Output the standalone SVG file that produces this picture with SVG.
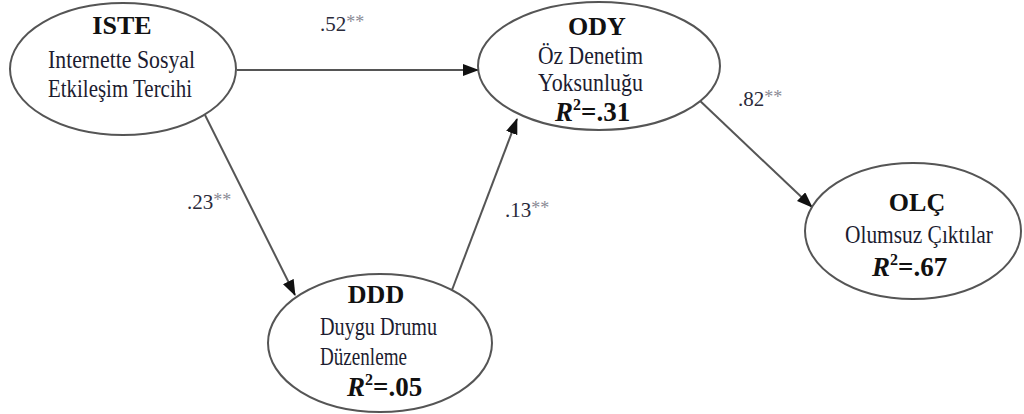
<svg xmlns="http://www.w3.org/2000/svg" width="1024" height="414" viewBox="0 0 1024 414">
<style>
.node{fill:#fff;stroke:#555;stroke-width:2}
.edge{fill:none;stroke:#555;stroke-width:2}
text{font-family:"Liberation Serif","Times New Roman",Tinos,"DejaVu Serif",serif}
.title{font-weight:bold;font-size:26px;fill:#111;text-anchor:middle}
.desc{font-size:26px;fill:#1c1c30}
.r2{font-weight:bold;font-size:27px;fill:#111}
.lbl{font-size:21px;fill:#2a2a3a}
.ast{fill:#8a8a95;font-size:18px}
</style>
<defs>
<marker id="arr" markerUnits="userSpaceOnUse" markerWidth="16" markerHeight="12" refX="15" refY="6" orient="auto">
<path d="M0,0 L16,6 L0,12 Z" fill="#111"/>
</marker>
</defs>
<rect width="1024" height="414" fill="#fff"/>
<g id="connectors">
<path class="edge" d="M237,70 L478,70" marker-end="url(#arr)"/>
<path class="edge" d="M205,115 L295,295" marker-end="url(#arr)"/>
<path class="edge" d="M452,290 L517,119" marker-end="url(#arr)"/>
<path class="edge" d="M697,98 L812,207" marker-end="url(#arr)"/>
<text class="lbl" x="320" y="31">.52<tspan class="ast" dy="-3">**</tspan></text>
<text class="lbl" x="187" y="209">.23<tspan class="ast" dy="-3">**</tspan></text>
<text class="lbl" x="505" y="217">.13<tspan class="ast" dy="-3">**</tspan></text>
<text class="lbl" x="738" y="106">.82<tspan class="ast" dy="-3">**</tspan></text>
</g>
<g id="ISTE">
<ellipse class="node" cx="123" cy="69" rx="113" ry="66"/>
<text class="title" x="122" y="34">ISTE</text>
<text class="desc" x="48" y="68" textLength="147" lengthAdjust="spacingAndGlyphs">Internette Sosyal</text>
<text class="desc" x="48" y="97" textLength="144" lengthAdjust="spacingAndGlyphs">Etkileşim Tercihi</text>
</g>
<g id="ODY">
<ellipse class="node" cx="599" cy="66" rx="121" ry="64"/>
<text class="title" x="597" y="35">ODY</text>
<text class="desc" x="538" y="64" font-size="24" textLength="105" lengthAdjust="spacingAndGlyphs">Öz Denetim</text>
<text class="desc" x="538" y="91" font-size="24" textLength="105" lengthAdjust="spacingAndGlyphs">Yoksunluğu</text>
<text class="r2" x="555" y="121"><tspan font-style="italic">R</tspan><tspan font-size="16" dy="-11">2</tspan><tspan dy="11">=.31</tspan></text>
</g>
<g id="OLC">
<ellipse class="node" cx="913" cy="231" rx="108" ry="68"/>
<text class="title" x="917" y="211">OLÇ</text>
<text class="desc" x="845" y="243" textLength="148" lengthAdjust="spacingAndGlyphs">Olumsuz Çıktılar</text>
<text class="r2" x="872" y="276"><tspan font-style="italic">R</tspan><tspan font-size="16" dy="-11">2</tspan><tspan dy="11">=.67</tspan></text>
</g>
<g id="DDD">
<ellipse class="node" cx="380" cy="343" rx="112" ry="69"/>
<text class="title" x="376" y="303">DDD</text>
<text class="desc" x="320" y="335" textLength="117" lengthAdjust="spacingAndGlyphs">Duygu Drumu</text>
<text class="desc" x="320" y="365" textLength="87" lengthAdjust="spacingAndGlyphs">Düzenleme</text>
<text class="r2" x="347" y="396"><tspan font-style="italic">R</tspan><tspan font-size="16" dy="-11">2</tspan><tspan dy="11">=.05</tspan></text>
</g>
</svg>
